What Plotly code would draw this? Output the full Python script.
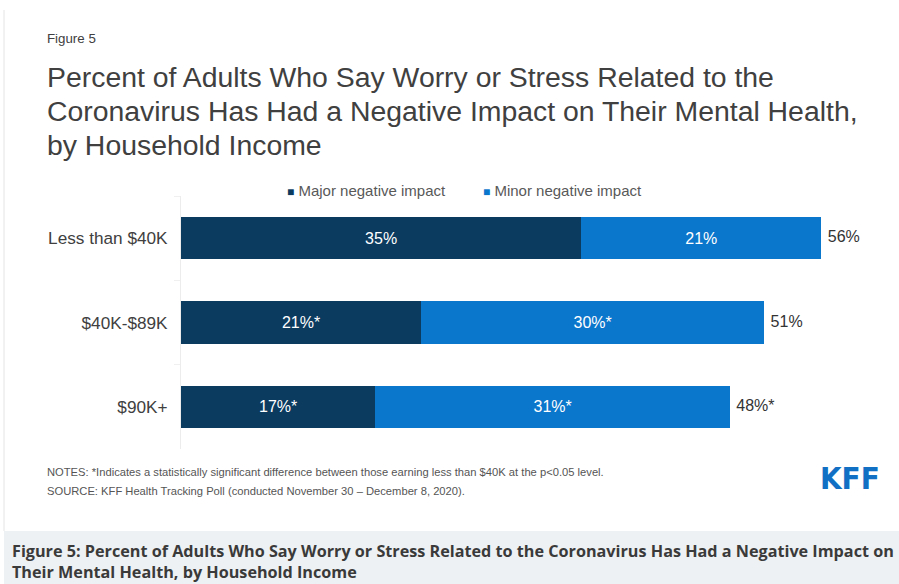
import plotly.graph_objects as go

# ---- data ----
categories = ["Less than $40K", "$40K-$89K", "$90K+"]
major_impact = [35, 21, 17]
minor_impact = [21, 30, 31]
totals = [56, 51, 48]
major_sig = [False, True, True]
minor_sig = [False, True, True]
total_sig = [False, False, True]

series_names = ["Major negative impact", "Minor negative impact"]
title_lines = [
    "Percent of Adults Who Say Worry or Stress Related to the",
    "Coronavirus Has Had a Negative Impact on Their Mental Health,",
    "by Household Income",
]
DARK = "#0b3b5f"
LIGHT = "#0a76cc"
TEXT = "#404040"

W, H = 899, 584


def px(x):
    return x / W


def py(y):
    return 1 - y / H


def lab(v, sig):
    return f"{v}%" + ("*" if sig else "")


fig = go.Figure()
for vals, sig, name, color in [
    (major_impact, major_sig, series_names[0], DARK),
    (minor_impact, minor_sig, series_names[1], LIGHT),
]:
    fig.add_trace(go.Bar(
        y=categories, x=vals, orientation="h", name=name,
        marker=dict(color=color, line=dict(width=0)),
        text=[lab(v, s) for v, s in zip(vals, sig)],
        textposition="inside", insidetextanchor="middle",
        textfont=dict(color="white", size=16, family="Liberation Sans"),
        hoverinfo="skip", showlegend=False,
    ))

# totals at the end of each stacked bar
fig.add_trace(go.Scatter(
    y=categories, x=totals, mode="text",
    text=["\u2009\u2009" + lab(v, s) for v, s in zip(totals, total_sig)],
    textposition="middle right",
    textfont=dict(color="#333333", size=16, family="Liberation Sans"),
    showlegend=False, hoverinfo="skip",
))

fig.update_layout(
    width=W, height=H,
    margin=dict(l=0, r=0, t=0, b=0),
    paper_bgcolor="white", plot_bgcolor="white",
    barmode="stack", bargap=0.5,
    font=dict(family="Liberation Sans", color=TEXT),
    xaxis=dict(domain=[px(181), px(890)], range=[0, 62], visible=False, fixedrange=True),
    yaxis=dict(domain=[py(449), py(196)], autorange="reversed", showline=True,
               linecolor="#ececec", linewidth=1, ticks="outside", tickson="boundaries",
               ticklen=6, tickcolor="#f0f0f0", showgrid=False, zeroline=False,
               tickfont=dict(size=17.2, color=TEXT), ticklabelstandoff=9),
    showlegend=False,
)

# series key above the bars
legend_x = [285, 481]
legend_items = [
    dict(text=f"<span style='color:{c};font-size:12px'>\u25a0</span> {n}",
         x=px(x0), y=py(190), font=dict(size=15, color="#595959"))
    for x0, n, c in zip(legend_x, series_names, [DARK, LIGHT])
]

title_items = [
    dict(text=t, x=px(45), y=py(yc), font=dict(size=28.4, color=TEXT))
    for t, yc in zip(title_lines, [77, 111, 145])
]

annotations = legend_items + title_items + [
    dict(text="Figure 5", x=px(45), y=py(38), font=dict(size=13.3, color=TEXT)),
    dict(text="NOTES: *Indicates a statistically significant difference between those earning less than $40K at the p<0.05 level.",
         x=px(45), y=py(472), font=dict(size=11.2, color="#555555")),
    dict(text="SOURCE: KFF Health Tracking Poll (conducted November 30 \u2013 December 8, 2020).",
         x=px(45), y=py(491), font=dict(size=11.2, color="#555555")),
    dict(text="<b>KFF</b>", x=px(818), y=py(478),
         font=dict(size=31, color="#1170c4", family="DejaVu Sans Condensed")),
    dict(text="Figure 5: Percent of Adults Who Say Worry or Stress Related to the Coronavirus Has Had a Negative Impact on<br>"
              "Their Mental Health, by Household Income",
         x=px(10), y=py(561), font=dict(size=16.2, color="#3a3a3a", family="Open Sans", weight=700)),
]
for a in annotations:
    a.update(xref="paper", yref="paper", xanchor="left", yanchor="middle",
             showarrow=False, align="left")
fig.update_layout(annotations=annotations)

fig.update_layout(shapes=[
    dict(type="rect", xref="paper", yref="paper", x0=px(4), x1=1, y0=0, y1=py(531),
         fillcolor="#eef1f3", line=dict(width=0), layer="below"),
    dict(type="line", xref="paper", yref="paper", x0=px(4), x1=px(4), y0=py(531), y1=py(10),
         line=dict(color="#e4e4e4", width=1)),
])

fig.write_html("out.html")
